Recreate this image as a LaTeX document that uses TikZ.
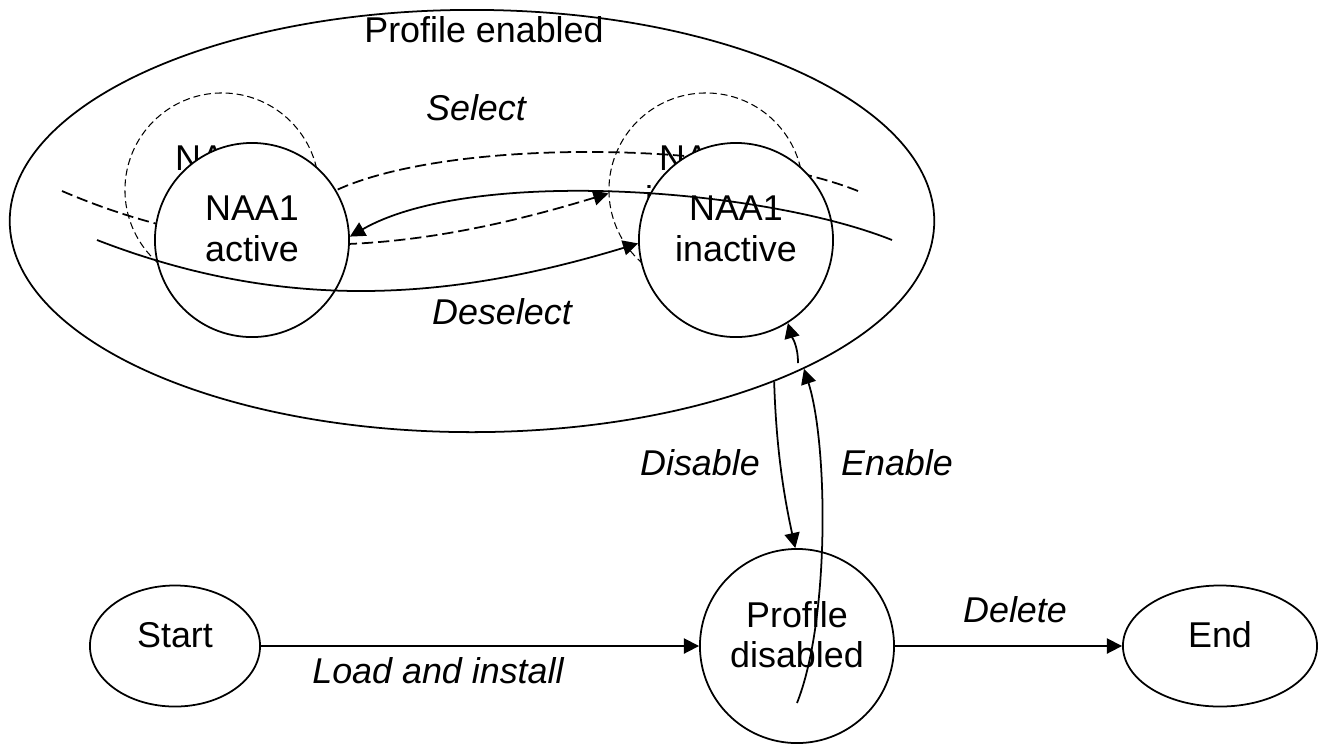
\documentclass[tikz,border=0pt]{standalone}
\usepackage{fontspec}
\setmainfont{Liberation Sans}
\usetikzlibrary{arrows.meta,shapes.geometric}

\begin{document}
\begin{tikzpicture}[x=0.01cm,y=-0.01cm,
    every node/.style={font=\fontsize{10.2}{11.5}\selectfont},
    state/.style={circle,draw,fill=white,line width=0.5pt,minimum size=1.94cm,inner sep=0pt,align=center,
      execute at end node={\rule[-6.5pt]{0pt}{6.5pt}}},
    ghost/.style={state,fill=none,line width=0.3pt,dash pattern=on 2pt off 1.1pt},
    term/.style={ellipse,draw,line width=0.5pt,inner sep=0pt,minimum height=1.21cm,
      execute at end node={\rule[-6.5pt]{0pt}{6.5pt}}},
    lbl/.style={font=\fontsize{10.2}{11.5}\selectfont\itshape},
    tr/.style={line width=0.5pt,-{Triangle[length=4.3pt,width=4.3pt]}},
    gtr/.style={tr,dash pattern=on 3.2pt off 1.4pt}]
  \useasboundingbox (0,0) rectangle (1326,744);

  % profile enabled
  \node[ellipse,draw,line width=0.5pt,minimum width=9.24cm,minimum height=4.22cm] (enabled) at (472,221) {};
  \node (enlbl) at (484,30) {Profile enabled};

  % hidden copies
  \node[ghost] (ghostA) at (222,190) {NAA1\\active};
  \node[ghost] (ghostI) at (706,190) {NAA1\\inactive};
  \coordinate (gSelFrom) at (858,191);
  \coordinate (gDeselFrom) at (62,191);
  \draw[gtr] (gSelFrom) .. controls +(-130,-52) and +(122,-60) .. (ghostA.-5);
  \draw[gtr] (gDeselFrom) .. controls +(186,80) and +(-191,58) .. (ghostI.182);

  % states
  \node[state] (active) at (252,240) {NAA1\\active};
  \node[state] (inactive) at (736,240) {NAA1\\inactive};
  \node[state] (disabled) at (797,646) {Profile\\disabled};
  \node[term,minimum width=1.70cm] (start) at (175,646) {Start};
  \node[term,minimum width=1.94cm] (end) at (1220,646) {End};

  % transitions
  \coordinate (selFrom) at (892,240);
  \coordinate (deselFrom) at (97,240);
  \draw[tr] (selFrom) .. controls +(-130,-52) and +(122,-70) .. (active.2);
  \draw[tr] (deselFrom) .. controls +(186,72) and +(-191,58) .. (inactive.182);
  \draw[tr] (start) -- (disabled);
  \draw[tr] (disabled) -- (end);
  \draw[tr] (enabled.-28.5) .. controls +(2,65) and +(-12,-55) .. (disabled.91);
  \coordinate (enFrom) at (797,703);
  \draw[tr] (enFrom) .. controls +(33,-83) and +(24,75) .. (enabled.-24.5);
  \coordinate (enMid) at (798,363);
  \draw[tr] (enMid) .. controls +(0,-18) and +(4,14) .. (inactive.-58);

  \node[lbl] (sellbl) at (476,108) {Select};
  \node[lbl] (desellbl) at (502,312) {Deselect};
  \node[lbl] (dislbl) at (700,463) {Disable};
  \node[lbl] (enablbl) at (897,463) {Enable};
  \node[lbl] (loadlbl) at (438,671) {Load and install};
  \node[lbl] (dellbl) at (1015,610) {Delete};
\end{tikzpicture}
\end{document}
